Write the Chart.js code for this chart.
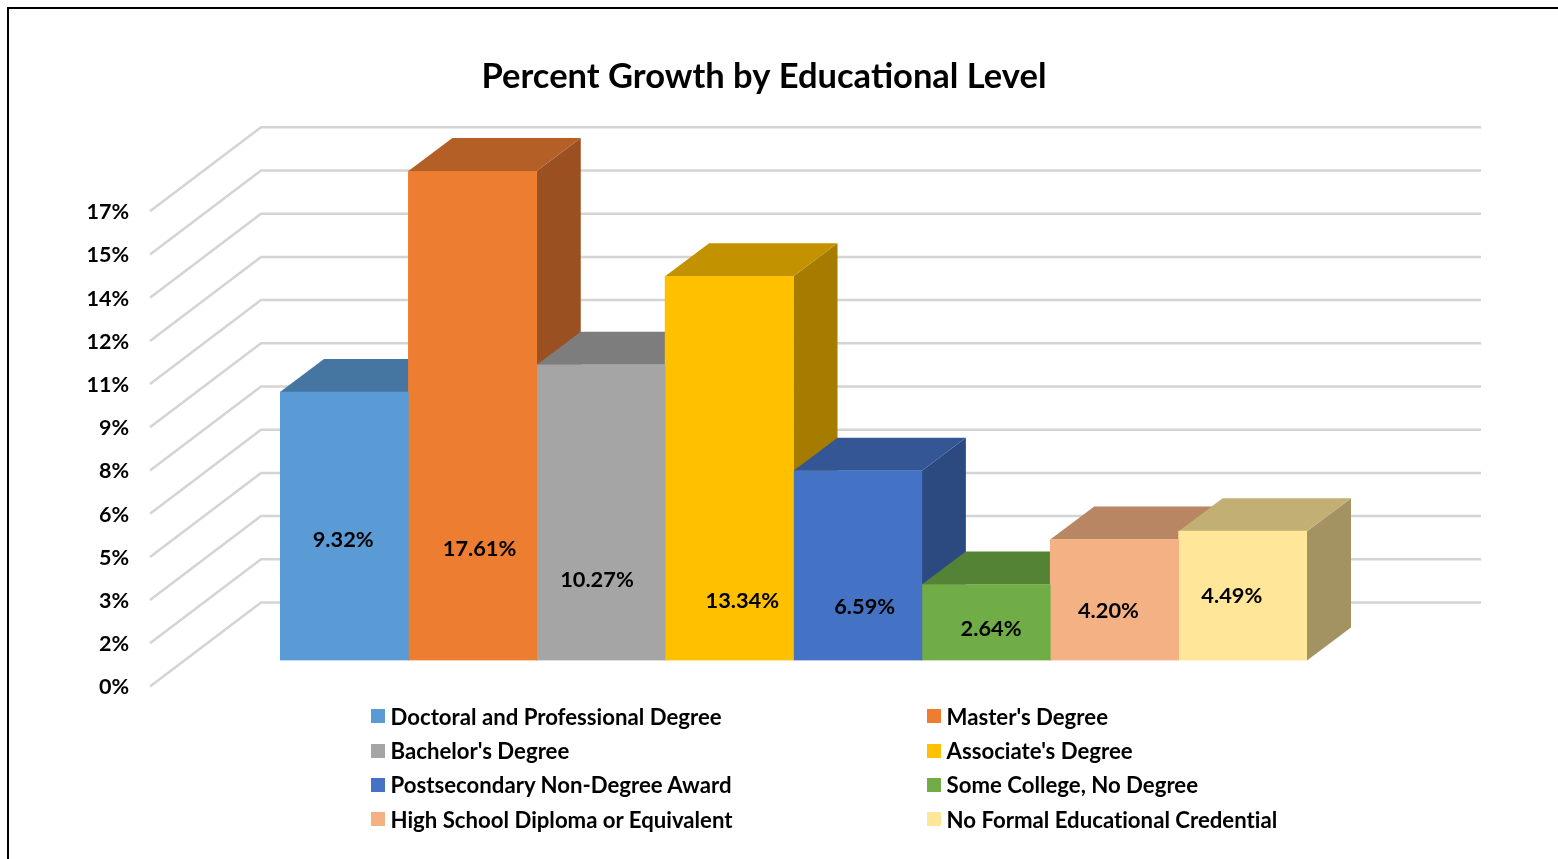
<!DOCTYPE html>
<html>
<head>
<meta charset="utf-8">
<title>Percent Growth by Educational Level</title>
<script src="https://cdn.jsdelivr.net/npm/chart.js@4"></script>
<style>
    html, body { margin: 0; padding: 0; background: #fff; overflow: hidden; }
    #wrap { position: relative; width: 1558px; height: 859px; overflow: hidden; }
    #frame { position: absolute; left: 7px; top: 7px; width: 1600px; height: 900px; border-left: 2.5px solid #000; border-top: 2.5px solid #000; }
    #chart { position: absolute; left: 0; top: 0; }
    #legend { position: absolute; left: 371px; top: 699px; width: 1000px; display: grid; grid-template-columns: 556px 400px; grid-auto-rows: 34.4px; font: bold 22.2px Lato, sans-serif; font-variant-ligatures: none; color: #000; }
    #legend div { display: flex; align-items: center; white-space: nowrap; }
    #legend i { display: block; width: 14px; height: 14px; margin-right: 5.5px; }
</style>
</head>
<body>
<div id="wrap">
    <div id="frame"></div>
    <canvas id="chart" width="1558" height="859"></canvas>
    <div id="legend"></div>
</div>
<script>
// Data
const levels = ['Doctoral and Professional Degree', "Master's Degree", "Bachelor's Degree", "Associate's Degree",
    'Postsecondary Non-Degree Award', 'Some College, No Degree', 'High School Diploma or Equivalent', 'No Formal Educational Credential'];
const growth = [9.32, 17.61, 10.27, 13.34, 6.59, 2.64, 4.20, 4.49];
const tickValues = [0, 1.5, 3, 4.5, 6, 7.5, 9, 10.5, 12, 13.5, 15, 16.5];
const tickLabels = ['0%', '2%', '3%', '5%', '6%', '8%', '9%', '11%', '12%', '14%', '15%', '17%'];
const axisMax = 17;

// Styles
const frontColors = ['#5B9BD5', '#ED7D31', '#A5A5A5', '#FFC000', '#4472C4', '#70AD47', '#F4B183', '#FFE699'];
const topColors = ['#4576A2', '#B45F25', '#7D7D7D', '#C29200', '#345695', '#558336', '#B98664', '#C2AF74'];
const sideColors = ['#3B6589', '#9A5020', '#6B6B6B', '#A67C00', '#2C4A80', '#49702E', '#9F7356', '#A49362'];

// the labels were placed by hand in the original, so they sit off centre
const labelNudge = [[-1, -121], [7, -112], [-4, -81], [13, -60], [7, -54], [5, -32], [-6, -50], [-11, -65]];

const depthX = 44, depthY = -33;   // bar depth
const backX = 261, backDy = -58;   // back wall relative to the bar plane
const wallX = 150, wallDy = 26;    // front end of the side wall

function poly(ctx, pts, color) {
    ctx.fillStyle = color;
    ctx.beginPath();
    pts.forEach((p, i) => i ? ctx.lineTo(p[0], p[1]) : ctx.moveTo(p[0], p[1]));
    ctx.closePath();
    ctx.fill();
}

const walls3d = {
    id: 'walls3d',
    beforeDatasetsDraw(chart) {
        const ctx = chart.ctx, y = chart.scales.y;
        ctx.save();
        // grid on side and back wall, and the tick labels
        ctx.strokeStyle = '#D4D4D4';
        ctx.lineWidth = 2.5;
        tickValues.forEach((v, i) => {
            const py = y.getPixelForValue(v);
            ctx.beginPath();
            ctx.moveTo(wallX, py + wallDy);
            ctx.lineTo(backX, py + backDy);
            ctx.lineTo(1481, py + backDy);
            ctx.stroke();
        });
        ctx.fillStyle = '#000';
        ctx.font = 'bold 21.5px Lato, sans-serif';
        ctx.textAlign = 'right';
        ctx.textBaseline = 'middle';
        tickValues.forEach((v, i) => {
            ctx.fillText(tickLabels[i], 129, y.getPixelForValue(v) + 27);
        });
        // top and side of each bar, left to right, the fronts go over them
        growth.forEach((g, i) => {
            const bar = chart.getDatasetMeta(i).data[0];
            const l = bar.x - bar.width / 2, r = bar.x + bar.width / 2;
            const t = Math.max(bar.y, chart.chartArea.top), b = bar.base;
            poly(ctx, [[r, t], [r + depthX, t + depthY], [r + depthX, b + depthY], [r, b]], sideColors[i]);
            poly(ctx, [[l, t], [l + depthX, t + depthY], [r + depthX, t + depthY], [r, t]], topColors[i]);
        });
        ctx.restore();
    },
    afterDatasetsDraw(chart) {
        const ctx = chart.ctx;
        ctx.save();
        ctx.fillStyle = '#000';
        ctx.font = 'bold 21.8px Lato, sans-serif';
        ctx.textAlign = 'center';
        ctx.textBaseline = 'middle';
        growth.forEach((g, i) => {
            const bar = chart.getDatasetMeta(i).data[0];
            ctx.fillText(g.toFixed(2) + '%', bar.x + labelNudge[i][0], bar.base + labelNudge[i][1]);
        });
        ctx.restore();
    },
    afterLayout(chart) {
        // title is centred on the whole chart object, not on the bars
        chart.titleBlock.left -= 29.5;
        chart.titleBlock.right -= 29.5;
    }
};

// a letter spacing stops the "ti" ligature on the canvas text
document.getElementById('chart').getContext('2d').letterSpacing = '0.02px';

const chart = new Chart(document.getElementById('chart'), {
    type: 'bar',
    data: {
        labels: ['Percent Growth'],
        datasets: levels.map((name, i) => ({
            label: name,
            data: [growth[i]],
            backgroundColor: frontColors[i],
            barPercentage: 1,
            categoryPercentage: 1
        }))
    },
    options: {
        responsive: false,
        animation: false,
        layout: { padding: { left: 280, right: 251, top: 0, bottom: 198.5 } },
        scales: {
            x: { display: false },
            y: { display: false, min: 0, max: axisMax }
        },
        plugins: {
            legend: { display: false },
            tooltip: { enabled: false },
            title: {
                display: true,
                text: 'Percent Growth by Educational Level',
                color: '#000',
                font: { family: 'Lato, sans-serif', size: 34.5, weight: 'bold', lineHeight: 1.2 },
                padding: { top: 56.5, bottom: 73 }
            }
        }
    },
    plugins: [walls3d]
});

// HTML legend, two columns
const legendBox = document.getElementById('legend');
chart.data.datasets.forEach(ds => {
    const item = document.createElement('div');
    const swatch = document.createElement('i');
    swatch.style.background = ds.backgroundColor;
    item.appendChild(swatch);
    item.appendChild(document.createTextNode(ds.label));
    legendBox.appendChild(item);
});
</script>
</body>
</html>
